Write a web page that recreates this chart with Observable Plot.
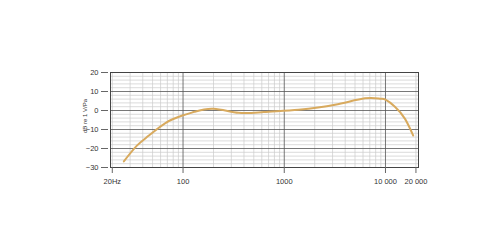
<!DOCTYPE html>
<html><head><meta charset="utf-8">
<script src="https://cdn.jsdelivr.net/npm/d3@7"></script>
<script src="https://cdn.jsdelivr.net/npm/@observablehq/plot@0.6"></script>
<style>body{margin:0;background:#fff} svg{display:block}</style>
</head><body><div id="chart"></div>
<script>
const freqs  = [26, 35, 46, 67, 97, 130, 200, 354, 625, 1385, 3180, 6280, 8840, 10000, 12400, 15600, 18800];
const levels = [-26.8, -18.5, -13.2, -6.6, -2.8, -0.7, 0.9, -1.2, -0.8, 0.4, 3, 6.4, 6.2, 5.7, 2, -4.4, -13.2];
const xTicks = [20, 100, 1000, 10000, 20000];
const xTickLabels = ["20Hz", "100", "1000", "10 000", "20 000"];
const xMajorGrid = [100, 1000, 10000];
const xMinorGrid = [20,30,40,50,60,70,80,90,200,300,400,500,600,700,800,900,2000,3000,4000,5000,6000,7000,8000,9000,20000];
const yTicks = [-30, -20, -10, 0, 10, 20];
const yMinorGrid = [-28,-26,-24,-22,-18,-16,-14,-12,-8,-6,-4,-2,2,4,6,8,12,14,16,18];
const yLabel = "dB re 1 V/Pa";

const data = freqs.map((f, i) => ({f, v: levels[i]}));
const xLabelData = xTicks.map((t, i) => ({t, label: xTickLabels[i]}));

const chart = Plot.plot({
  width: 500, height: 250,
  marginLeft: 110, marginRight: 82, marginTop: 72, marginBottom: 83,
  style: {fontFamily: "Liberation Sans, Arial, sans-serif", fontSize: "7.5px", color: "#333", background: "#fff"},
  x: {type: "log", domain: [19.2, 21200], axis: null},
  y: {domain: [-30, 20], axis: null},
  marks: [
    Plot.ruleX(xMinorGrid, {stroke: "#cccccc", strokeWidth: 0.7}),
    Plot.ruleY(yMinorGrid, {stroke: "#cccccc", strokeWidth: 0.7}),
    Plot.ruleX(xMajorGrid, {stroke: "#555", strokeWidth: 0.8}),
    Plot.ruleY(yTicks, {stroke: "#555", strokeWidth: 0.8}),
    Plot.frame({stroke: "#444", strokeWidth: 1}),
    Plot.line(data, {x: "f", y: "v", curve: "natural", stroke: "#d8aa5e", strokeWidth: 2}),
    Plot.axisX(xTicks, {tickSize: 6, tickPadding: 0, tickFormat: () => "", stroke: "#666", label: null}),
    Plot.text(xLabelData, {x: "t", text: "label", frameAnchor: "bottom", dy: 16, fill: "#333", fontSize: 7.5}),
    Plot.axisY(yTicks, {tickSize: 7, tickPadding: 3, dx: -2, stroke: "#666", fill: "#333", label: null, fontSize: 7.5}),
    Plot.text([yLabel], {frameAnchor: "left", textAnchor: "middle", dx: -25, dy: -4, rotate: -90, fill: "#333", fontSize: 6})
  ]
});
document.getElementById("chart").appendChild(chart);
</script>
</body></html>
